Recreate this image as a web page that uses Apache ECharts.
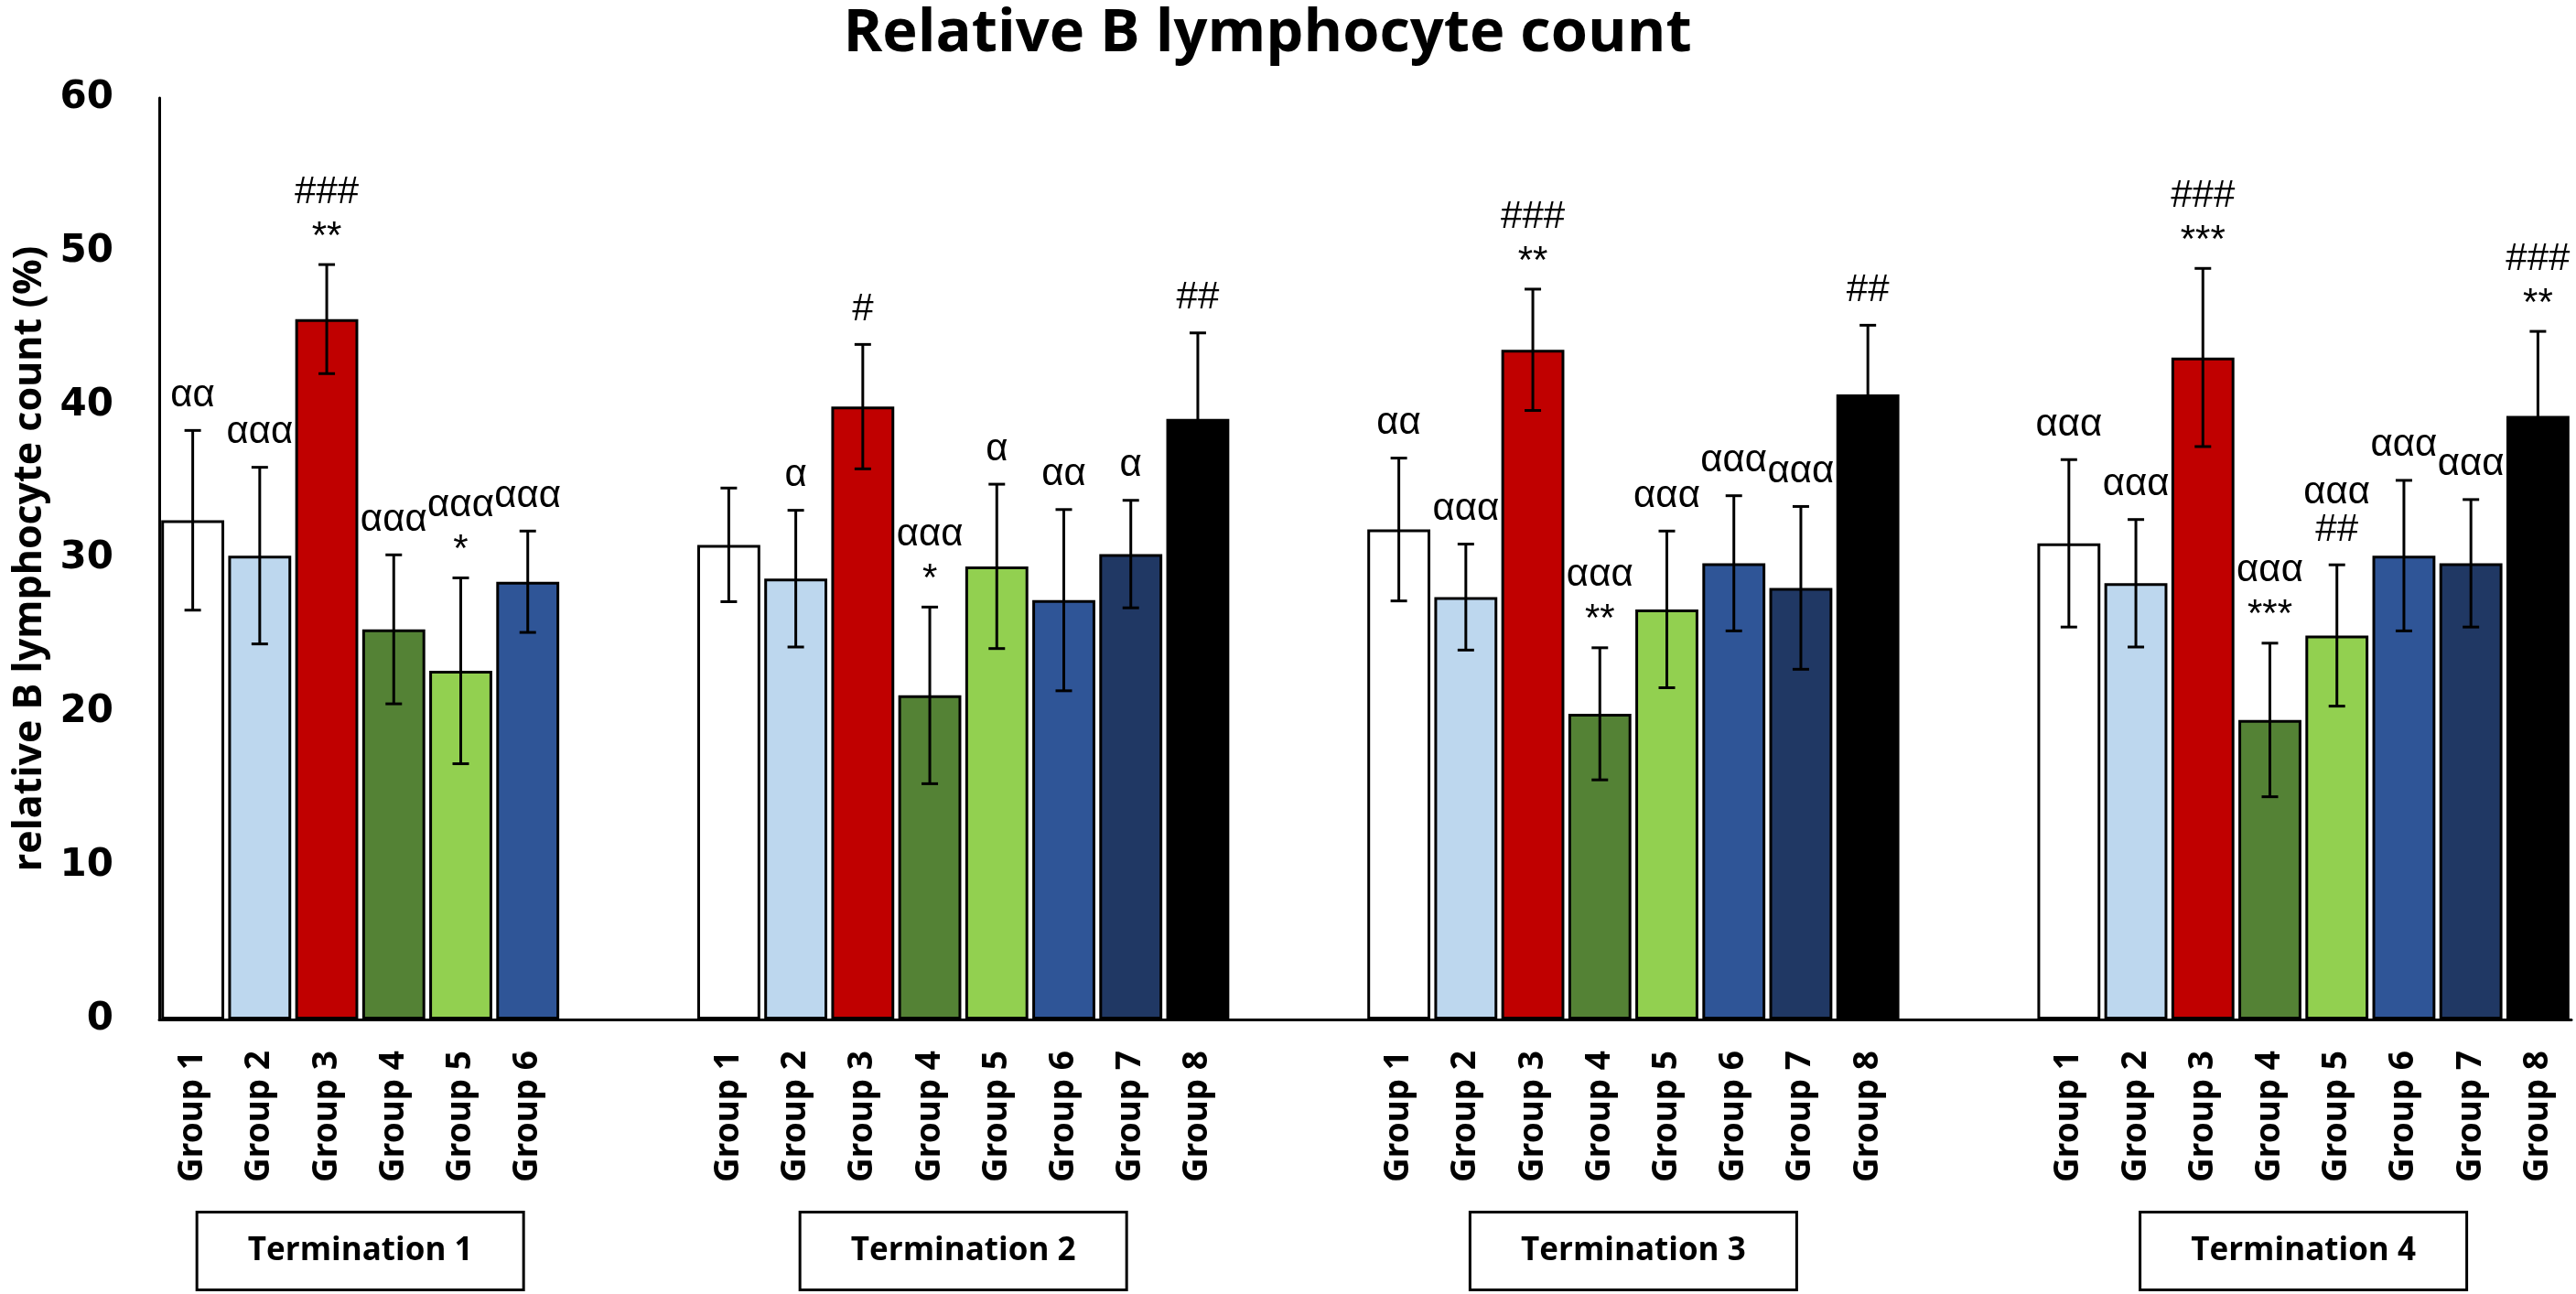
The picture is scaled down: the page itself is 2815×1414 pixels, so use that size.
<!DOCTYPE html>
<html lang="en">
<head>
    <meta charset="UTF-8">
    <title>Relative B lymphocyte count</title>
    <script src="https://cdn.jsdelivr.net/npm/echarts@6/dist/echarts.min.js"></script>
    <style>
        html, body { margin: 0; padding: 0; background: #fff; }
    </style>
</head>
<body>

<div id="main" style="width: 2815px; height: 1414px;"></div>
<script>
    // group names and the fill used for each group
    var groupNames = ['Group 1', 'Group 2', 'Group 3', 'Group 4', 'Group 5', 'Group 6', 'Group 7', 'Group 8'];
    var groupColors = ['#FFFFFF', '#BDD7EE', '#C00000', '#548235', '#92D050', '#2F5597', '#203864', '#000000'];

    var terminations = ['Termination 1', 'Termination 2', 'Termination 3', 'Termination 4'];

    // mean values (%) per termination
    var t1Mean = [32.5, 30.2, 45.6, 25.4, 22.7, 28.5];
    var t2Mean = [30.9, 28.7, 39.9, 21.1, 29.5, 27.3, 30.3, 39.1];
    var t3Mean = [31.9, 27.5, 43.6, 19.9, 26.7, 29.7, 28.1, 40.7];
    var t4Mean = [31.0, 28.4, 43.1, 19.5, 25.0, 30.2, 29.7, 39.3];

    // error bar half-lengths
    var t1Sd = [5.85, 5.75, 3.55, 4.85, 6.05, 3.3];
    var t2Sd = [3.7, 4.45, 4.05, 5.75, 5.35, 5.9, 3.5, 5.6];
    var t3Sd = [4.65, 3.45, 3.95, 4.3, 5.1, 4.4, 5.3, 4.5];
    var t4Sd = [5.45, 4.15, 5.8, 5.0, 4.6, 4.9, 4.15, 5.5];

    // significance marks above each bar
    var t1Marks = ['αα', 'ααα', '###\n**', 'ααα', 'ααα\n*', 'ααα'];
    var t2Marks = ['', 'α', '#', 'ααα\n*', 'α', 'αα', 'α', '##'];
    var t3Marks = ['αα', 'ααα', '###\n**', 'ααα\n**', 'ααα', 'ααα', 'ααα', '##'];
    var t4Marks = ['ααα', 'ααα', '###\n***', 'ααα\n***', 'ααα\n##', 'ααα', 'ααα', '###\n**'];

    var yTicks = [0, 10, 20, 30, 40, 50, 60];

    // category slots: each termination starts at this slot, two blanks in between
    var termStart = [0, 8, 18, 28];
    var slotCount = 36;

    var means = [t1Mean, t2Mean, t3Mean, t4Mean];
    var sds = [t1Sd, t2Sd, t3Sd, t4Sd];
    var marks = [t1Marks, t2Marks, t3Marks, t4Marks];

    var categories = [];
    var barData = [];
    for (var i = 0; i < slotCount; i++) {
        categories.push('');
        barData.push('-');
    }
    var errData = [];
    var annot = [];
    var termCenter = [];
    for (var t = 0; t < means.length; t++) {
        termCenter.push(termStart[t] + means[t].length / 2);
        for (var g = 0; g < means[t].length; g++) {
            var idx = termStart[t] + g;
            categories[idx] = groupNames[g];
            barData[idx] = {
                value: means[t][g],
                itemStyle: {color: groupColors[g]}
            };
            errData.push([idx, means[t][g], sds[t][g]]);
            annot.push({slot: idx, top: means[t][g] + sds[t][g], text: marks[t][g]});
        }
    }

    var mychart = echarts.init(document.getElementById('main'));

    mychart.setOption({
        animation: false,
        backgroundColor: '#fff',
        title: {
            text: 'Relative B lymphocyte count',
            left: 1380,
            textAlign: 'center',
            top: 0,
            textStyle: {
                fontFamily: 'Open Sans',
                fontWeight: 'bold',
                fontSize: 65,
                color: '#000'
            }
        },
        grid: {
            left: 174,
            right: 5,
            top: 107,
            bottom: 300,
            containLabel: false,
            outerBoundsMode: 'none'
        },
        xAxis: [{
            type: 'category',
            data: categories,
            axisLine: {show: true, lineStyle: {color: '#000', width: 3}},
            axisTick: {show: false},
            axisLabel: {
                interval: 0,
                rotate: 90,
                margin: 34,
                fontFamily: 'Noto Sans',
                fontWeight: 'bold',
                fontSize: 37,
                color: '#000'
            }
        }, {
            type: 'value',
            min: 0,
            max: slotCount,
            interval: 1,
            position: 'bottom',
            axisLine: {show: false},
            axisTick: {show: false},
            splitLine: {show: false},
            axisLabel: {
                margin: 212,
                showMinLabel: true,
                showMaxLabel: true,
                formatter: function (v) {
                    var k = termCenter.indexOf(v);
                    return k >= 0 ? '{box|' + terminations[k] + '}' : '';
                },
                rich: {
                    box: {
                        width: 354,
                        height: 82,
                        lineHeight: 82,
                        align: 'center',
                        borderColor: '#000',
                        borderWidth: 3,
                        backgroundColor: '#fff',
                        fontFamily: 'Open Sans',
                        fontWeight: 'bold',
                        fontSize: 35,
                        color: '#000'
                    }
                }
            }
        }],
        yAxis: {
            type: 'value',
            min: yTicks[0],
            max: yTicks[yTicks.length - 1],
            interval: 10,
            name: 'relative B lymphocyte count (%)',
            nameLocation: 'middle',
            nameRotate: 90,
            nameGap: 120,
            nameTextStyle: {
                fontFamily: 'Open Sans',
                fontWeight: 'bold',
                fontSize: 43,
                color: '#000'
            },
            axisLine: {show: true, lineStyle: {color: '#000', width: 3}},
            axisTick: {show: false},
            splitLine: {show: false},
            axisLabel: {
                margin: 50,
                fontFamily: 'DejaVu Sans',
                fontWeight: 'bold',
                fontSize: 42,
                color: '#000'
            }
        },
        series: [{
            type: 'bar',
            data: barData,
            barCategoryGap: '6%',
            itemStyle: {borderColor: '#000', borderWidth: 3},
            z: 2
        }, {
            type: 'custom',
            data: errData,
            z: 3,
            renderItem: function (params, api) {
                var x = api.value(0), m = api.value(1), s = api.value(2);
                var top = api.coord([x, m + s]);
                var bot = api.coord([x, m - s]);
                var cap = 9;
                var st = {stroke: '#000', lineWidth: 3};
                return {
                    type: 'group',
                    children: [
                        {type: 'line', shape: {x1: top[0], y1: top[1], x2: bot[0], y2: bot[1]}, style: st},
                        {type: 'line', shape: {x1: top[0] - cap, y1: top[1], x2: top[0] + cap, y2: top[1]}, style: st},
                        {type: 'line', shape: {x1: bot[0] - cap, y1: bot[1], x2: bot[0] + cap, y2: bot[1]}, style: st}
                    ]
                };
            }
        }, {
            type: 'custom',
            data: annot.map(function (a) { return [a.slot, a.top]; }),
            z: 4,
            renderItem: function (params, api) {
                var text = annot[params.dataIndex].text;
                if (!text) return null;
                var p = api.coord([api.value(0), api.value(1)]);
                var lines = text.split('\n');
                var children = [];
                for (var k = 0; k < lines.length; k++) {
                    var fromBottom = lines.length - 1 - k;
                    var y = p[1] - 38 - fromBottom * 41;
                    if (lines[k].indexOf('*') >= 0) y += 8;
                    children.push({
                        type: 'text',
                        style: {
                            text: lines[k],
                            x: p[0],
                            y: y,
                            align: 'center',
                            verticalAlign: 'middle',
                            fontFamily: 'Liberation Sans',
                            fontSize: 42,
                            fill: '#000'
                        }
                    });
                }
                return {type: 'group', children: children};
            }
        }]
    });
</script>

</body>
</html>
